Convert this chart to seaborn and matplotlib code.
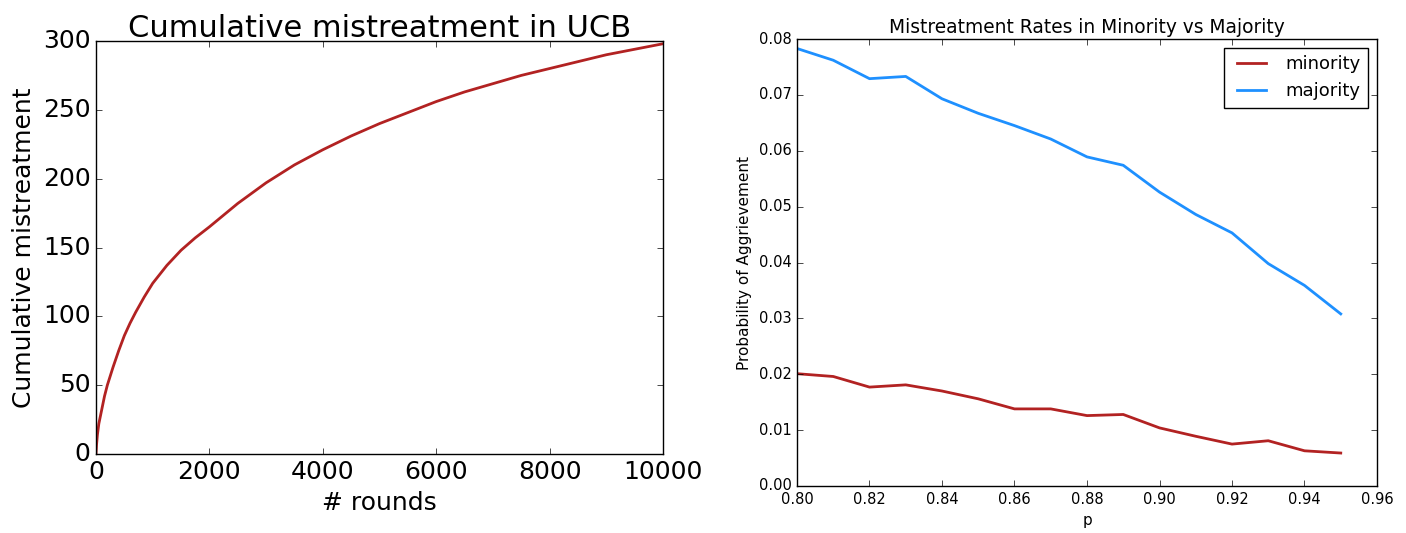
import pandas as pd
import seaborn as sns
import matplotlib.pyplot as plt

# left panel: cumulative mistreatment over rounds
rounds = [0, 10, 25, 50, 100, 150, 200, 300, 400, 500, 600, 700, 850, 1000,
          1250, 1500, 1750, 2000, 2500, 3000, 3500, 4000, 4500, 5000, 5500,
          6000, 6500, 7000, 7500, 8000, 8500, 9000, 9500, 10000]
cum_mistreat = [0, 7, 14, 22, 32, 42, 50, 63, 75, 86, 95, 103, 114, 124,
                137, 148, 157, 165, 182, 197, 210, 221, 231, 240, 248,
                256, 263, 269, 275, 280, 285, 290, 294, 298]

# right panel: mistreatment rates vs p
p_vals = [0.80, 0.81, 0.82, 0.83, 0.84, 0.85, 0.86, 0.87,
          0.88, 0.89, 0.90, 0.91, 0.92, 0.93, 0.94, 0.95]
minority = [0.0201, 0.0196, 0.0177, 0.0181, 0.0170, 0.0156, 0.0138, 0.0138,
            0.0126, 0.0128, 0.0104, 0.0089, 0.0075, 0.0081, 0.0063, 0.0059]
majority = [0.0783, 0.0762, 0.0729, 0.0733, 0.0693, 0.0667, 0.0645, 0.0621,
            0.0589, 0.0574, 0.0526, 0.0486, 0.0453, 0.0398, 0.0359, 0.0308]

plt.style.use('classic')
plt.rcParams['font.family'] = ['DejaVu Sans']

df_cum = pd.DataFrame({'rounds': rounds, 'cum': cum_mistreat})
df_rates = pd.DataFrame({
    'p': p_vals * 2,
    'rate': minority + majority,
    'group': ['minority'] * len(p_vals) + ['majority'] * len(p_vals),
})

fig = plt.figure(figsize=(14.06, 5.33), dpi=100, facecolor='white')
ax1 = fig.add_axes([96 / 1406, 1 - 454 / 533, 567 / 1406, 413 / 533])
ax2 = fig.add_axes([797 / 1406, 1 - 486 / 533, 580 / 1406, 447 / 533])

sns.lineplot(data=df_cum, x='rounds', y='cum', color='#B22222',
             linewidth=2, ax=ax1)
ax1.set_xlim(0, 10000)
ax1.set_ylim(0, 300)
ax1.set_xticks([0, 2000, 4000, 6000, 8000, 10000])
ax1.set_yticks([0, 50, 100, 150, 200, 250, 300])
ax1.tick_params(labelsize=18)
ax1.set_xlabel('# rounds', fontsize=18)
ax1.set_ylabel('Cumulative mistreatment', fontsize=18)
ax1.set_title('Cumulative mistreatment in UCB', fontsize=22, pad=3)

sns.lineplot(data=df_rates, x='p', y='rate', hue='group',
             palette={'minority': '#B22222', 'majority': '#1E90FF'},
             linewidth=2, ax=ax2)
ax2.set_xlim(0.80, 0.96)
ax2.set_ylim(0.0, 0.08)
ax2.set_xticks([0.80, 0.82, 0.84, 0.86, 0.88, 0.90, 0.92, 0.94, 0.96])
ax2.set_xticklabels(['%.2f' % v for v in ax2.get_xticks()])
ax2.set_yticks([0.0, 0.01, 0.02, 0.03, 0.04, 0.05, 0.06, 0.07, 0.08])
ax2.set_yticklabels(['%.2f' % v for v in ax2.get_yticks()])
ax2.tick_params(labelsize=10.5)
ax2.set_xlabel('p', fontsize=11)
ax2.set_ylabel('Probability of Aggrievement', fontsize=11)
ax2.set_title('Mistreatment Rates in Minority vs Majority', fontsize=13.4, pad=4)
leg = ax2.legend(loc='upper right', fontsize=13, frameon=True, fancybox=False,
                 handlelength=2.2)
leg.get_frame().set_edgecolor('black')

fig.savefig('out.png', dpi=100, facecolor='white')
